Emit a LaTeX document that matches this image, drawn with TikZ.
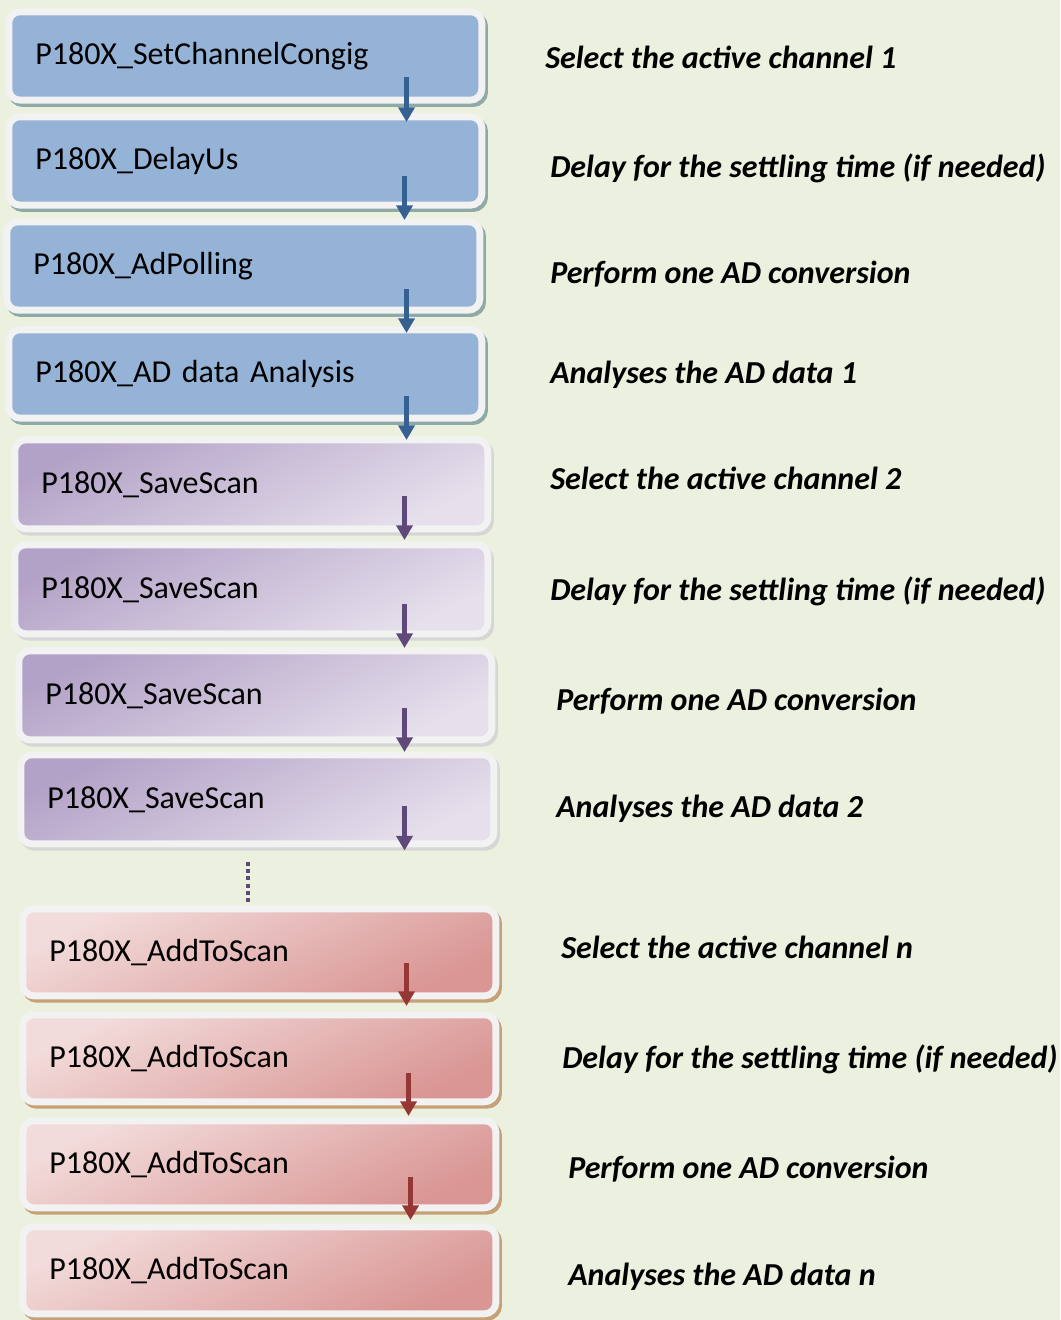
\documentclass[tikz,border=0pt]{standalone}
\usepackage{fontspec}
\setmainfont{Carlito}
\usetikzlibrary{arrows.meta}

\definecolor{bgcol}{HTML}{EBF1DE}
\definecolor{framecol}{HTML}{F2F2F2}
\definecolor{bluefill}{HTML}{95B3D7}
\definecolor{blueline}{HTML}{366092}
\definecolor{blueshadow}{HTML}{8FAAA6}
\definecolor{purpledark}{HTML}{B3A2C7}
\definecolor{purplelight}{HTML}{E6E0EC}
\definecolor{purpleline}{HTML}{5F497A}
\definecolor{purpleshadow}{HTML}{D6D6D6}
\definecolor{redlight}{HTML}{F2DCDB}
\definecolor{reddark}{HTML}{D99694}
\definecolor{redline}{HTML}{953735}
\definecolor{redshadow}{HTML}{C6A177}

\tikzset{
  stepbox/.style={anchor=north west, rounded corners=6pt, text width=315pt,
    inner xsep=17.25pt, align=left, font={\fontsize{24}{28}\selectfont},
    preaction={draw=#1, line width=10.5pt, transform canvas={shift={(2pt,-2.5pt)}}},
    preaction={draw=framecol, line width=10.5pt}},
  bluebox/.style={stepbox=blueshadow, fill=bluefill, minimum height=61pt},
  purplebox/.style={stepbox=purpleshadow, left color=purpledark, right color=purplelight,
    shading angle=25, minimum height=61.5pt},
  redbox/.style={stepbox=redshadow, left color=redlight, right color=reddark,
    shading angle=25, minimum height=60pt},
  steptext/.style={anchor=west, inner sep=0pt, font={\fontsize{24}{28}\selectfont\bfseries\itshape}},
  flow/.style={draw=#1, line width=3.2pt, -{Triangle[width=12pt,length=11pt]}},
  dots/.style={draw=purpleline, line width=3pt, dash pattern=on 3pt off 2.4pt}
}

\begin{document}
\begin{tikzpicture}[x=0.75pt,y=-0.75pt]

\fill[bgcol] (0,0) rectangle (1060,1320);

% channel 1
\node[bluebox] (b1) at (12,15) {P180X\_SetChannelCongig};
\node[bluebox] (b2) at (12,120) {P180X\_DelayUs};
\node[bluebox] (b3) at (10,225) {P180X\_AdPolling};
\node[bluebox] (b4) at (12,333) {P180X\_AD data Analysis};

% channel 2
\node[purplebox] (p1) at (18,443) {P180X\_SaveScan};
\node[purplebox] (p2) at (18,548) {P180X\_SaveScan};
\node[purplebox] (p3) at (22,654) {P180X\_SaveScan};
\node[purplebox] (p4) at (24,758) {P180X\_SaveScan};

% channel n
\node[redbox] (r1) at (26,912) {P180X\_AddToScan};
\node[redbox] (r2) at (26,1018) {P180X\_AddToScan};
\node[redbox] (r3) at (26,1124) {P180X\_AddToScan};
\node[redbox] (r4) at (26,1230) {P180X\_AddToScan};

\draw[flow=blueline] ([shift={(-72,-20)}]b1.south east) -- ([shift={(-72,2)}]b2.north east);
\draw[flow=blueline] ([shift={(-74,-26)}]b2.south east) -- ([shift={(-72,-5)}]b3.north east);
\draw[flow=blueline] ([shift={(-70,-18)}]b3.south east) -- ([shift={(-72,0)}]b4.north east);
\draw[flow=blueline] ([shift={(-72,-19)}]b4.south east) -- ([shift={(-78,-3)}]p1.north east);

\draw[flow=purpleline] ([shift={(-80,-30)}]p1.south east) -- ([shift={(-80,-8)}]p2.north east);
\draw[flow=purpleline] ([shift={(-80,-27)}]p2.south east) -- ([shift={(-84,-6)}]p3.north east);
\draw[flow=purpleline] ([shift={(-84,-29)}]p3.south east) -- ([shift={(-86,-6)}]p4.north east);
\coordinate (pend) at ([shift={(-86,10)}]p4.south east);
\draw[flow=purpleline] ([shift={(-86,-35)}]p4.south east) -- (pend);

\coordinate (dotstart) at (248,862);
\draw[dots] (dotstart) -- ([shift={(222,-7)}]r1.north west);

\draw[flow=redline] ([shift={(-86,-30)}]r1.south east) -- ([shift={(-86,-12)}]r2.north east);
\draw[flow=redline] ([shift={(-84,-26)}]r2.south east) -- ([shift={(-84,-8)}]r3.north east);
\draw[flow=redline] ([shift={(-82,-28)}]r3.south east) -- ([shift={(-82,-10)}]r4.north east);

% right column
\node[steptext] (t1) at (545,57) {Select the active channel 1};
\node[steptext] (t2) at (550,168) {Delay for the settling time (if needed)};
\node[steptext] (t3) at (550,274) {Perform one AD conversion};
\node[steptext] (t4) at (550,375) {Analyses the AD data 1};
\node[steptext] (t5) at (550,478) {Select the active channel 2};
\node[steptext] (t6) at (550,591) {Delay for the settling time (if needed)};
\node[steptext] (t7) at (556,701) {Perform one AD conversion};
\node[steptext] (t8) at (556,809) {Analyses the AD data 2};
\node[steptext] (t9) at (561,947) {Select the active channel n};
\node[steptext] (t10) at (562,1059) {Delay for the settling time (if needed)};
\node[steptext] (t11) at (568,1169) {Perform one AD conversion};
\node[steptext] (t12) at (568,1277) {Analyses the AD data n};

\end{tikzpicture}
\end{document}
